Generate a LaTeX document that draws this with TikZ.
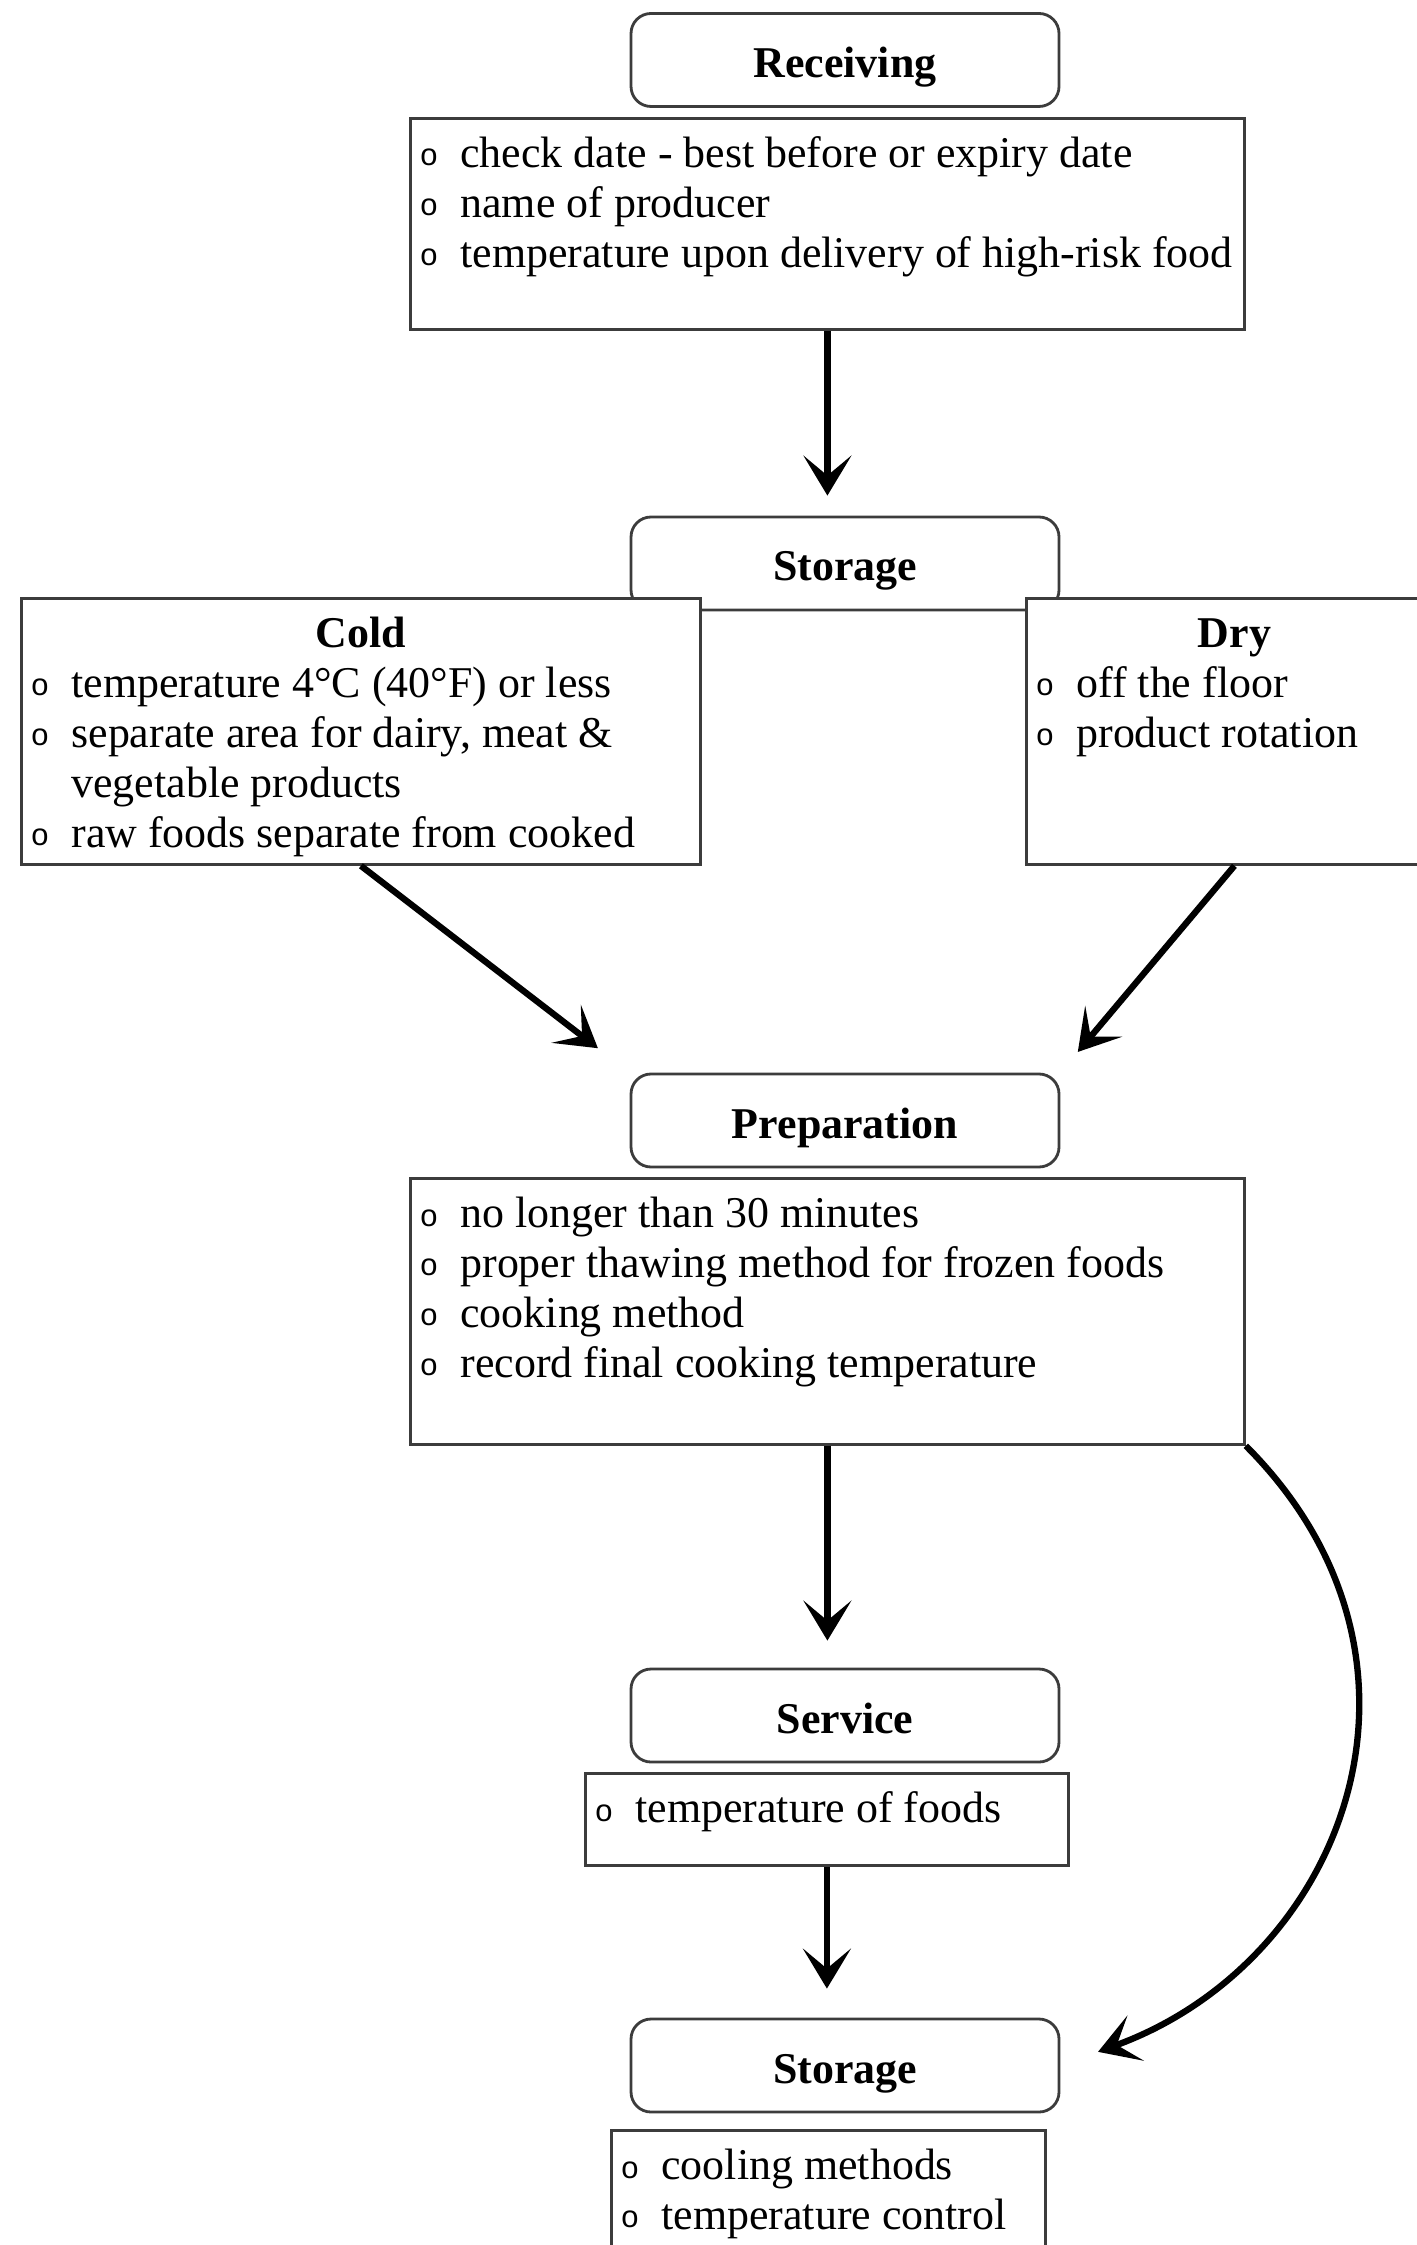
\documentclass[tikz,border=0pt]{standalone}
\usepackage{fontspec}
\setmainfont{Liberation Serif}
\newfontfamily\bulfont{Liberation Sans}
\usetikzlibrary{arrows.meta}
\definecolor{frame}{RGB}{60,60,60}
\newcommand\basesize{\fontsize{12.5}{14.2}\selectfont}
\newcommand\bul{\hspace*{1mm}\makebox[4mm][l]{\raisebox{0.4pt}{\bulfont\fontsize{8.8}{8.8}\selectfont o}}}
\newcommand\hang{\hspace*{5mm}}
\newcommand\firstline{\rule{0pt}{4.9mm}}
\tikzset{
  >={Stealth[length=4mm,width=4.8mm,inset=2mm]},
  stage/.style={draw=frame,line width=0.8pt,fill=white,rounded corners=2mm,
    minimum width=42.8mm,minimum height=9.3mm,text height=4.5mm,text depth=1mm,
    font=\basesize\bfseries},
  notes/.style={draw=frame,line width=0.8pt,fill=white,anchor=north west,inner sep=0pt},
  flow/.style={->,line width=1.8pt,shorten >=#1},
  flow/.default=2mm,
}
\begin{document}
\begin{tikzpicture}[x=0.1mm,y=0.1mm,font=\basesize]
\useasboundingbox (0,0) rectangle (1416,-2245);
% receiving
\node[stage] (rec) at (845,-60) {Receiving};
\node[notes] (recl) at (409,-117) {\parbox[c][21.1mm][t]{83.4mm}{\firstline
  \bul check date - best before or expiry date\\
  \bul name of producer\\
  \bul temperature upon delivery of high-risk food}};
% storage, cold and dry
\node[stage] (st1) at (845,-563.5) {Storage};
\node[notes] (cold) at (20,-597) {\parbox[c][26.6mm][t]{67.9mm}{\firstline
  \makebox[\linewidth]{\bfseries Cold}\\
  \bul temperature 4°C (40°F) or less\\
  \bul separate area for dairy, meat \&\\
  \hang vegetable products\\
  \bul raw foods separate from cooked}};
\node[notes] (dry) at (1025,-597) {\parbox[c][26.6mm][t]{41.6mm}{\firstline
  \makebox[\linewidth]{\bfseries Dry}\\
  \bul off the floor\\
  \bul product rotation}};
% preparation
\node[stage] (prep) at (845,-1120.5) {Preparation};
\node[notes] (prepl) at (409,-1177) {\parbox[c][26.6mm][t]{83.4mm}{\firstline
  \bul no longer than 30 minutes\\
  \bul proper thawing method for frozen foods\\
  \bul cooking method\\
  \bul record final cooking temperature}};
% service
\node[stage] (serv) at (845,-1715.5) {Service};
\node[notes] (servl) at (584,-1772) {\parbox[c][9.2mm][t]{48.3mm}{\firstline
  \bul temperature of foods}};
% storage after service
\node[stage] (st2) at (845,-2065.5) {Storage};
\node[notes] (st2l) at (610,-2129) {\parbox[c][15mm][t]{43.4mm}{\firstline
  \bul cooling methods\\
  \bul temperature control}};
% connectors
\draw[flow] (recl.south) -- (recl.south |- st1.north);
\draw[flow=4mm] (cold.south) -- (prep.north west);
\draw[flow=2.7mm] (dry.south) -- (prep.north east);
\draw[flow=2.7mm] (prepl.south) -- (prepl.south |- serv.north);
\draw[flow=2.9mm] (servl.south) -- (servl.south |- st2.north);
\draw[flow=4mm] (prepl.south east) to[out=-45,in=20,looseness=1.2] (st2.east);
\end{tikzpicture}
\end{document}
